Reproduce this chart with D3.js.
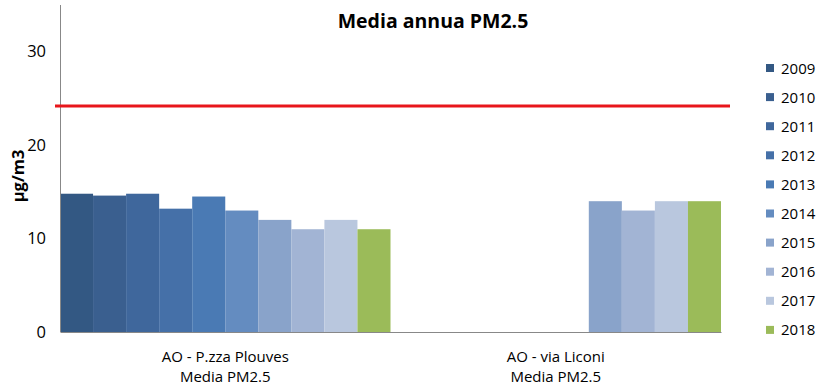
<!DOCTYPE html>
<html><head><meta charset="utf-8">
<script src="https://cdn.jsdelivr.net/npm/d3@7"></script>
<style>body{margin:0;background:#fff;}svg{display:block;font-family:"Open Sans","DejaVu Sans",sans-serif;}</style>
</head><body>
<svg id="c" width="838" height="391"></svg>
<script>
const categories = ["AO - P.zza Plouves\nMedia PM2.5", "AO - via Liconi\nMedia PM2.5"];
const years = ["2009","2010","2011","2012","2013","2014","2015","2016","2017","2018"];
const valuesPlouves = [14.8, 14.6, 14.8, 13.2, 14.5, 13.0, 12.0, 11.0, 12.0, 11.0];
const valuesLiconi  = [null, null, null, null, null, null, 14.0, 13.0, 14.0, 14.0];
const colors = ["#335883","#3A5F8F","#3F679C","#4570A8","#4A7AB4","#648CC0","#89A3CA","#A2B4D4","#B9C7DE","#9BBB59"];
const limitValue = 24.2;
const yTicks = [0, 10, 20, 30];
const title = "Media annua PM2.5";
const yLabel = "µg/m3";

const svg = d3.select("#c");
const m = {left:60, right:117, top:5, bottom:59};
const W = 838, H = 391;
const x0 = d3.scaleBand().domain(categories).range([m.left, W - m.right]).padding(0);
const x1 = d3.scaleBand().domain(years).range([0, x0.bandwidth()]).padding(0);
const y = d3.scaleLinear().domain([0, 35]).range([H - m.bottom, m.top]);
const color = d3.scaleOrdinal().domain(years).range(colors);

const series = [valuesPlouves, valuesLiconi];

// bars
categories.forEach((c, ci) => {
  const g = svg.append("g").attr("transform", `translate(${x0(c)},0)`);
  g.selectAll("rect").data(years.map((yr, i) => ({yr, v: series[ci][i]})).filter(d => d.v != null))
    .join("rect")
    .attr("x", d => x1(d.yr))
    .attr("width", x1.bandwidth())
    .attr("y", d => y(d.v))
    .attr("height", d => y(0) - y(d.v))
    .attr("fill", d => color(d.yr));
});

// y axis
const ya = svg.append("g").attr("transform", `translate(${m.left},0)`)
  .call(d3.axisLeft(y).tickValues(yTicks).tickSize(0).tickPadding(14));
ya.select(".domain").attr("stroke", "#888").attr("d", `M0.5,${y(35)}V${y(0)}`);
ya.selectAll("text").attr("font-size", 16.5).attr("fill", "#000").attr("font-family", "Open Sans, sans-serif");

// x axis
const xa = svg.append("g").attr("transform", `translate(0,${y(0)})`)
  .call(d3.axisBottom(x0).tickSize(0).tickFormat(""));
xa.select(".domain").attr("stroke", "#888");
categories.forEach(c => {
  const t = svg.append("text").attr("x", x0(c) + x0.bandwidth()/2).attr("y", y(0) + 30)
    .attr("text-anchor", "middle").attr("font-size", 15).attr("fill", "#000");
  c.split("\n").forEach((line, i) => t.append("tspan").attr("x", x0(c) + x0.bandwidth()/2).attr("dy", i ? 19.5 : 0).text(line));
});

// limit line
svg.append("line").attr("x1", 55).attr("x2", 730).attr("y1", y(limitValue)).attr("y2", y(limitValue))
  .attr("stroke", "#E8161B").attr("stroke-width", 3);

// title
svg.append("text").attr("x", 433).attr("y", 28).attr("text-anchor", "middle")
  .attr("font-size", 19.5).attr("font-weight", "bold").attr("fill", "#000").text(title);

// y label
svg.append("text").attr("transform", `translate(24,176) rotate(-90)`).attr("text-anchor", "middle")
  .attr("font-size", 16.5).attr("font-weight", "bold").attr("fill", "#000").text(yLabel);

// legend
const lg = svg.append("g");
years.forEach((yr, i) => {
  const yy = 68 + i * 29.1;
  lg.append("rect").attr("x", 766).attr("y", yy - 4).attr("width", 8).attr("height", 8).attr("fill", color(yr));
  lg.append("text").attr("x", 781).attr("y", yy + 5.5).attr("font-size", 15).attr("fill", "#000").text(yr);
});
</script>
</body></html>
